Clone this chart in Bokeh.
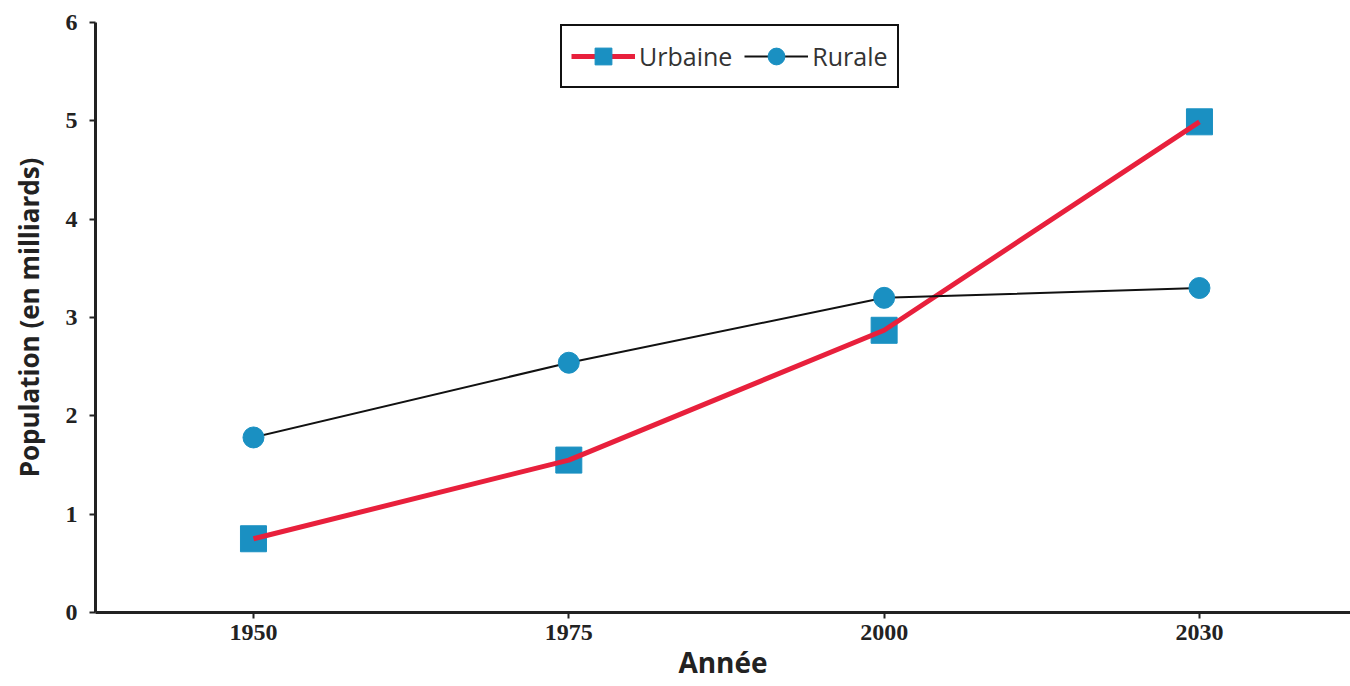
from bokeh.plotting import figure
from bokeh.models import Range1d, FixedTicker, Legend, LegendItem
from bokeh.embed import file_html
from bokeh.resources import INLINE

years = ["1950", "1975", "2000", "2030"]
urbaine = [0.75, 1.55, 2.87, 4.99]
rurale = [1.78, 2.54, 3.20, 3.30]
y_ticks = [0, 1, 2, 3, 4, 5, 6]

xs = list(range(len(years)))

p = figure(width=1350, height=686, output_backend="svg", toolbar_location=None,
           x_range=Range1d(-0.501, 3.479), y_range=Range1d(0, 6),
           min_border_left=95, min_border_right=0, min_border_top=22, min_border_bottom=74)
p.outline_line_color = None
p.xgrid.visible = False
p.ygrid.visible = False
p.background_fill_color = "white"

blue = "#1a90c2"
red = "#e8203c"

sq = p.scatter(xs, urbaine, marker="square", size=26, color=blue)
rl = p.line(xs, urbaine, line_color=red, line_width=5)
bl = p.line(xs, rurale, line_color="#111111", line_width=2)
ci = p.scatter(xs, rurale, marker="circle", size=21, color=blue)

legend = Legend(items=[LegendItem(label="Urbaine", renderers=[rl, sq]),
                       LegendItem(label="Rurale", renderers=[bl, ci])],
                orientation="horizontal", location=(465, 524))
legend.label_text_font = "Open Sans"
legend.label_text_font_size = "25px"
legend.label_text_color = "#333333"
legend.border_line_color = "#111111"
legend.border_line_width = 2
legend.border_line_alpha = 1
legend.glyph_width = 64
legend.glyph_height = 42
legend.spacing = 12
legend.label_standoff = 4
legend.padding = 9
legend.margin = 0
legend.label_height = 42
legend.background_fill_alpha = 1
p.add_layout(legend, "center")

p.xaxis.ticker = FixedTicker(ticks=xs)
p.xaxis.major_label_overrides = {i: y for i, y in enumerate(years)}
p.yaxis.ticker = FixedTicker(ticks=y_ticks)

for ax in (p.xaxis, p.yaxis):
    ax.axis_line_width = 3
    ax.axis_line_color = "#222222"
    ax.major_tick_line_color = "#222222"
    ax.major_tick_line_width = 2
    ax.major_tick_in = 0
    ax.major_tick_out = 6
    ax.minor_tick_line_color = None
    ax.major_label_text_font = "Liberation Serif"
    ax.major_label_text_font_style = "bold"
    ax.major_label_text_font_size = "24px"
    ax.major_label_text_color = "#222222"
    ax.axis_label_text_font = "Open Sans"
    ax.axis_label_text_font_style = "bold"
    ax.axis_label_text_color = "#222222"

p.xaxis.axis_label = "Année"
p.xaxis.axis_label_text_font_size = "28px"
p.xaxis.major_label_standoff = 6
p.xaxis.axis_label_standoff = 0
p.yaxis.axis_label = "Population (en milliards)"
p.yaxis.axis_label_text_font_size = "26px"
p.yaxis.major_label_standoff = 12
p.yaxis.axis_label_standoff = 16

open("out.html", "w").write(file_html(p, INLINE))
